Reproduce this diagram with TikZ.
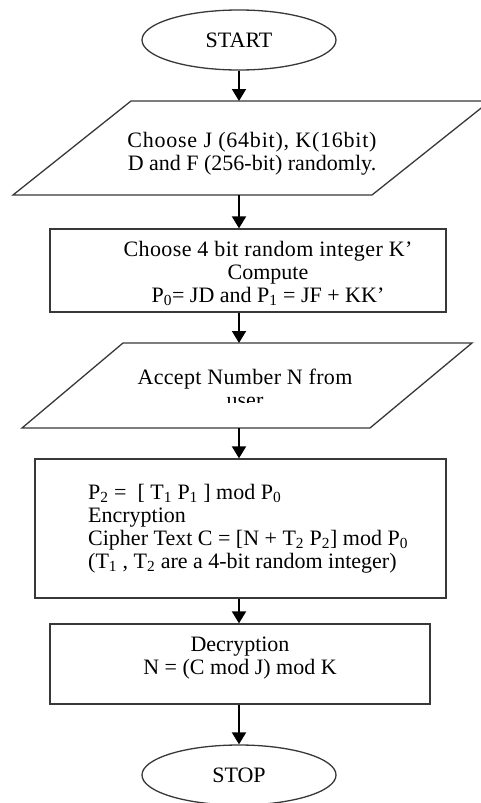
\documentclass[tikz,border=0pt]{standalone}
\usepackage{fontspec}
\setmainfont{Liberation Serif}
\usetikzlibrary{shapes.geometric,arrows.meta}
\begin{document}
\begin{tikzpicture}[x=1pt,y=-1pt,
  outl/.style={draw=black!78,line width=1.3pt},
  rbox/.style={outl,rectangle,inner sep=0pt},
  oval/.style={outl,ellipse,inner sep=0pt,minimum width=194pt,minimum height=60pt},
  arr/.style={-{Triangle[length=12pt,width=14pt]},line width=1.9pt,black},
  txt/.style={font=\fontsize{22}{23}\selectfont,inner sep=0pt,text=black}]
\useasboundingbox (0,0) rectangle (481,803);
\begin{scope}
\clip (0,0) rectangle (481,803);
% start
\node[oval] (start) at (239,40) {};
\node[txt] (starttxt) at (239,40) {START};
% input 1
\draw[outl] (131,101) -- (490,101) -- (372,195) -- (13,195) -- cycle;
\coordinate (in1n) at (239,101);
\coordinate (in1s) at (239,195);
\node[txt,align=center] (in1txt) at (252,154) {{\addfontfeatures{LetterSpace=3.5}Choose J (64bit), K(16bit)}\\D and F (256-bit) randomly.};
% box 2
\node[rbox,minimum width=396pt,minimum height=83pt] (b2) at (248,270.5) {};
\node[txt,align=center] (b2txt) at (268,273) {{\addfontfeatures{LetterSpace=1.8}Choose 4 bit random integer K’}\\Compute\\P\textsubscript{0}= JD and P\textsubscript{1} = JF + KK’};
% input 2
\draw[outl] (123,343) -- (472,343) -- (370,428) -- (22,428) -- cycle;
\coordinate (in2n) at (239,343);
\coordinate (in2s) at (239,428);
\begin{scope}
\clip (30,350) rectangle (460,402);
\node[txt,align=center,anchor=north] (in2txt) at (245,369) {{\addfontfeatures{LetterSpace=1.5}Accept Number N from}\\user};
\end{scope}
% box 3
\node[rbox,minimum width=411pt,minimum height=139pt] (b3) at (240.5,528.5) {};
\node[txt,align=left,anchor=west] (b3txt) at (88,529) {P\textsubscript{2} =\ \ [ T\textsubscript{1} P\textsubscript{1} ] mod P\textsubscript{0}\\Encryption\\Cipher Text C = [N + T\textsubscript{2} P\textsubscript{2}] mod P\textsubscript{0}\\(T\textsubscript{1} , T\textsubscript{2} are a 4-bit random integer)};
% box 4
\node[rbox,minimum width=380pt,minimum height=80pt] (b4) at (240,664) {};
\node[txt,align=center] (b4txt) at (240,658) {Decryption\\N = (C mod J) mod K};
% stop
\node[oval] (stop) at (239,775) {};
\node[txt] (stoptxt) at (239,775) {STOP};
% arrows
\draw[arr] (start.south) -- (in1n);
\draw[arr] (in1s) -- (in1s |- b2.north);
\draw[arr] (b2.south -| in2n) -- (in2n);
\draw[arr] (in2s) -- (in2s |- b3.north);
\draw[arr] (b3.south -| in2s) -- (in2s |- b4.north);
\draw[arr] (b4.south -| stop.north) -- (stop.north);
\end{scope}
\end{tikzpicture}
\end{document}
